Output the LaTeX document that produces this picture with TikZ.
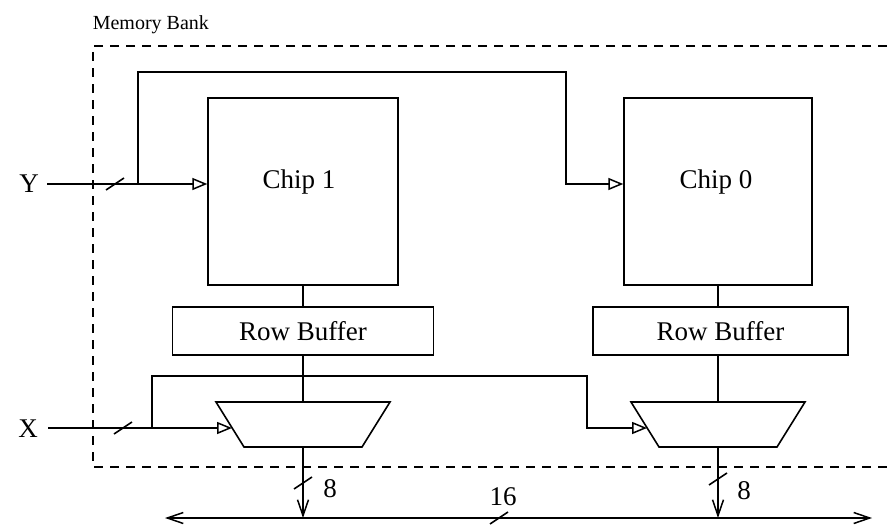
\documentclass[tikz,border=0pt]{standalone}
\usepackage{fontspec}
\setmainfont{Liberation Serif}
\usetikzlibrary{arrows.meta,calc}
\begin{document}
\begin{tikzpicture}[x=1pt,y=-1pt,
  line width=1.6pt,
  box/.style={draw, line width=1.4pt, inner sep=0pt},
  lbl/.style={font=\fontsize{27}{30}\selectfont, inner sep=0pt},
  smalllbl/.style={font=\fontsize{20}{24}\selectfont, inner sep=0pt},
  bankline/.style={line width=1.6pt, dash pattern=on 9pt off 7pt},
  inarrow/.style={-{Triangle[open,length=15pt,width=12pt,line width=1.5pt]}},
  barb/.style={-{Straight Barb[length=16pt,width=11pt,line width=1.5pt]}},
  busline/.style={{Straight Barb[length=16pt,width=11pt,line width=1.5pt]}-{Straight Barb[length=16pt,width=11pt,line width=1.5pt]}},
  slashmark/.style={line width=1.6pt},
  muxshape/.style={line width=1.6pt, line join=miter}
]
\useasboundingbox (0,0) rectangle (888,527);

% memory bank frame (open on the right)
\node[smalllbl, anchor=base west] (bank) at (92,30) {Memory Bank};
\draw[bankline] (887,46) -- (93,46) -- (93,467) -- (887,467);

% chips
\node[box, minimum width=190, minimum height=187] (c1) at (303,191.5) {};
\node[box, minimum width=188, minimum height=187] (c0) at (718,191.5) {};
\node[lbl] (c1t) at (299,182) {Chip 1};
\node[lbl] (c0t) at (716,182) {Chip 0};

% row buffers
\node[box, lbl, draw, line width=1.4pt, minimum width=261, minimum height=48] (rb1) at (303,331) {Row Buffer};
\node[box, lbl, draw, line width=1.4pt, minimum width=255, minimum height=48] (rb0) at (720.5,331) {Row Buffer};

% multiplexers
\draw[muxshape] (216,402) -- (390,402) -- (362,447) -- (244,447) -- cycle;
\draw[muxshape] (631,402) -- (805,402) -- (777,447) -- (659,447) -- cycle;
\coordinate (m1t) at (303,402);
\coordinate (m1b) at (303,447);
\coordinate (m1in) at (232,428);
\coordinate (m0t) at (718,402);
\coordinate (m0b) at (718,447);
\coordinate (m0in) at (647,428);

% vertical data path
\draw (c1.south) -- (c1.south |- rb1.north);
\draw (rb1.south) -- (m1t);
\draw (c0.south) -- (c0.south |- rb0.north);
\draw (rb0.south -| c0.south) -- (m0t);

% Y input
\node[lbl] (Y) at (29,184) {Y};
\coordinate (yin) at (47,184);
\coordinate (ybr) at (138,184);
\coordinate (yturn) at (566,72);
\draw[inarrow] (yin) -- (c1.west |- yin);
\draw[inarrow] (ybr) |- (yturn) |- (c0.west |- ybr);

% X input
\node[lbl] (X) at (28,429) {X};
\coordinate (xin) at (48,428);
\coordinate (xbr) at (152,428);
\coordinate (xturn) at (587,376);
\draw[inarrow] (xin) -- (m1in);
\draw[inarrow] (xbr) |- (xturn) |- (m0in);

% bus
\coordinate (busL) at (165,518);
\coordinate (busR) at (872,518);
\draw[busline] (busL) -- (busR);
\draw[barb] (m1b) -- (m1b |- busL);
\draw[barb] (m0b) -- (m0b |- busL);

% width slashes
\coordinate (sY) at (115,184);
\coordinate (sX) at (123,428);
\coordinate (s1) at (303,483);
\coordinate (s0) at (718,479);
\coordinate (sB) at (499,518);
\foreach \s in {sY,sX,s1,s0,sB}
  \draw[slashmark] ($(\s)+(-9,6)$) -- ($(\s)+(9,-6)$);

% width labels
\node[lbl] (w1) at (330,489) {8};
\node[lbl] (w0) at (744,491) {8};
\node[lbl] (wB) at (503,497) {16};
\end{tikzpicture}
\end{document}
